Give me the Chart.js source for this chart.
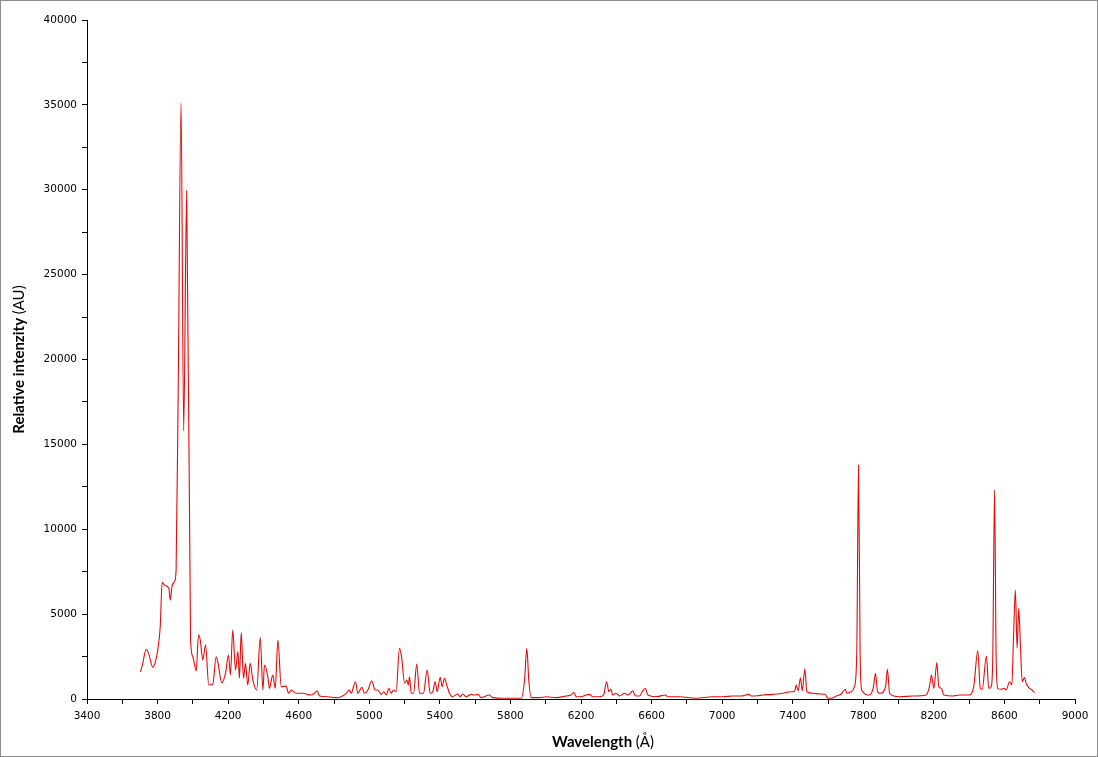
<!DOCTYPE html>
<html>
<head>
<meta charset="utf-8">
<title>Spectrum</title>
<script src="https://cdn.jsdelivr.net/npm/chart.js@4.4.1/dist/chart.umd.min.js"></script>
<style>
    body { margin: 0; background: #fff; }
    #frame { width: 1096px; height: 755px; border: 1px solid #8c8c8c; }
</style>
</head>
<body>
<div id="frame">
    <canvas id="myChart" width="1096" height="755"></canvas>
</div>
<script>
// wavelength (Angstrom) and relative intensity
var wavelengths = [
    3703, 3716, 3735, 3749, 3773, 3788, 3801, 3815, 3826, 3839, 3864, 3872, 3883, 3896, 3905, 3918,
    3933, 3948, 3965, 3987, 4000, 4019, 4032, 4042, 4056, 4072, 4090, 4113, 4132, 4141, 4164, 4185,
    4202, 4213, 4226, 4242, 4255, 4264, 4274, 4287, 4298, 4311, 4325, 4340, 4362, 4382, 4397, 4406,
    4425, 4434, 4453, 4467, 4482, 4501, 4529, 4542, 4557, 4586, 4623, 4671, 4705, 4718, 4765, 4812,
    4841, 4869, 4888, 4897, 4922, 4935, 4958, 4973, 4992, 5014, 5033, 5048, 5067, 5082, 5096, 5111,
    5124, 5137, 5152, 5171, 5183, 5200, 5213, 5221, 5228, 5238, 5251, 5269, 5285, 5307, 5328, 5345,
    5360, 5373, 5385, 5402, 5413, 5426, 5439, 5455, 5470, 5502, 5515, 5530, 5549, 5578, 5596, 5615,
    5634, 5681, 5700, 5757, 5795, 5861, 5880, 5893, 5904, 5918, 5965, 6003, 6059, 6116, 6144, 6159,
    6173, 6201, 6229, 6248, 6267, 6305, 6328, 6345, 6358, 6369, 6380, 6399, 6418, 6447, 6465, 6479,
    6494, 6507, 6532, 6547, 6564, 6579, 6626, 6679, 6692, 6758, 6853, 6947, 7004, 7060, 7108, 7151,
    7165, 7202, 7230, 7287, 7344, 7391, 7410, 7420, 7431, 7444, 7454, 7469, 7480, 7514, 7552, 7584,
    7599, 7618, 7647, 7675, 7698, 7707, 7731, 7750, 7763, 7773, 7782, 7791, 7835, 7858, 7869, 7881,
    7896, 7926, 7937, 7949, 8005, 8081, 8156, 8175, 8186, 8200, 8217, 8228, 8243, 8256, 8307, 8345,
    8402, 8426, 8449, 8463, 8474, 8498, 8511, 8525, 8534, 8544, 8553, 8562, 8582, 8597, 8610, 8629,
    8642, 8651, 8662, 8672, 8681, 8691, 8701, 8714, 8723, 8742, 8757, 8770
];
var intensities = [
    1590, 2100, 2930, 2690, 1870, 2200, 2890, 4260, 6870, 6710, 6520, 5830, 6710, 6910, 7600, 19500,
    35100, 15800, 29950, 3475, 2490, 1650, 3770, 3475, 2300, 3180, 825, 880, 2490, 2200, 960, 1510,
    2590, 1410, 4060, 1710, 2790, 1220, 3910, 1220, 2100, 825, 2100, 1120, 530, 3630, 530, 2000,
    1310, 630, 1410, 630, 3475, 725, 765, 335, 530, 335, 335, 235, 470, 175, 135, 80,
    135, 335, 530, 335, 1020, 335, 690, 335, 530, 1060, 530, 530, 275, 430, 235, 630,
    335, 530, 430, 2985, 2490, 925, 1120, 825, 1310, 335, 335, 2060, 335, 335, 1710, 335,
    430, 1020, 430, 1280, 725, 1220, 825, 335, 135, 295, 135, 295, 135, 275, 235, 275,
    80, 235, 80, 40, 40, 40, 1120, 2985, 1120, 80, 80, 135, 80, 175, 235, 395,
    135, 135, 235, 275, 135, 135, 235, 1020, 430, 570, 235, 335, 175, 335, 235, 335,
    490, 195, 175, 430, 630, 235, 135, 235, 135, 135, 40, 135, 135, 175, 175, 275,
    175, 195, 235, 275, 335, 430, 430, 825, 490, 1255, 490, 1785, 430, 335, 295, 275,
    40, 40, 175, 295, 570, 335, 430, 725, 2690, 13780, 2690, 530, 235, 725, 1510, 430,
    335, 725, 1750, 335, 135, 175, 235, 725, 1410, 630, 2140, 725, 630, 235, 175, 235,
    235, 725, 2845, 630, 570, 2530, 630, 725, 2490, 12310, 2490, 630, 570, 630, 530, 1020,
    825, 3475, 6420, 2985, 5340, 3080, 1020, 1280, 925, 630, 530, 370
];

var xMin = 3400, xMax = 9000, xStep = 200, xLabelStep = 400;
var yMin = 0, yMax = 40000, yStep = 2500, yLabelStep = 5000;

var points = [];
for (let i = 0; i < wavelengths.length; i++) {
    points.push({ x: wavelengths[i], y: intensities[i] });
}

// axis titles: bold word followed by a normal-weight unit
const axisTitles = {
    id: 'axisTitles',
    afterDraw(chart) {
        const ctx = chart.ctx;
        const area = chart.chartArea;
        const bold = 'bold 15px Lato';
        const normal = '15px Lato';

        function mixed(boldText, normalText, cx, cy, rotate) {
            ctx.save();
            ctx.translate(cx, cy);
            if (rotate) ctx.rotate(-Math.PI / 2);
            ctx.fillStyle = '#000';
            ctx.textBaseline = 'middle';
            ctx.textAlign = 'left';
            ctx.font = bold;
            let w1 = ctx.measureText(boldText).width;
            ctx.font = normal;
            let w2 = ctx.measureText(normalText).width;
            let start = -(w1 + w2) / 2;
            ctx.font = bold;
            ctx.fillText(boldText, start, 0);
            ctx.font = normal;
            ctx.fillText(normalText, start + w1, 0);
            ctx.restore();
        }

        mixed('Wavelength ', '(Å)', (area.left + area.right) / 2 + 22, area.bottom + 43, false);
        mixed('Relative intenzity ', '(AU)', 18, (area.top + area.bottom) / 2, true);
    }
};

new Chart("myChart", {
    type: "scatter",
    data: {
        datasets: [{
            data: points,
            showLine: true,
            borderColor: 'rgb(230, 10, 10)',
            borderWidth: 1.1,
            pointRadius: 0,
            cubicInterpolationMode: 'monotone'
        }]
    },
    options: {
        responsive: false,
        animation: false,
        layout: {
            padding: { left: 0, top: 19, right: 22, bottom: 0 }
        },
        plugins: {
            legend: { display: false },
            tooltip: { enabled: false }
        },
        scales: {
            x: {
                type: 'linear',
                min: xMin,
                max: xMax,
                afterFit: (scale) => { scale.height = 57; },
                border: { color: '#000', width: 1 },
                grid: { drawOnChartArea: false, drawTicks: true, tickLength: 5, tickColor: '#000' },
                ticks: {
                    stepSize: xStep,
                    autoSkip: false,
                    maxRotation: 0,
                    padding: 6,
                    color: '#000',
                    font: { family: 'DejaVu Sans', size: 10.5 },
                    callback: (v) => ((v - xMin) % xLabelStep === 0 ? v : '')
                }
            },
            y: {
                min: yMin,
                max: yMax,
                afterFit: (scale) => { scale.width = 86; },
                border: { color: '#000', width: 1 },
                grid: { drawOnChartArea: false, drawTicks: true, tickLength: 5, tickColor: '#000' },
                ticks: {
                    stepSize: yStep,
                    autoSkip: false,
                    padding: 5,
                    color: '#000',
                    font: { family: 'DejaVu Sans', size: 10.5 },
                    callback: (v) => (v % yLabelStep === 0 ? v : '')
                }
            }
        }
    },
    plugins: [axisTitles]
});
</script>
</body>
</html>
